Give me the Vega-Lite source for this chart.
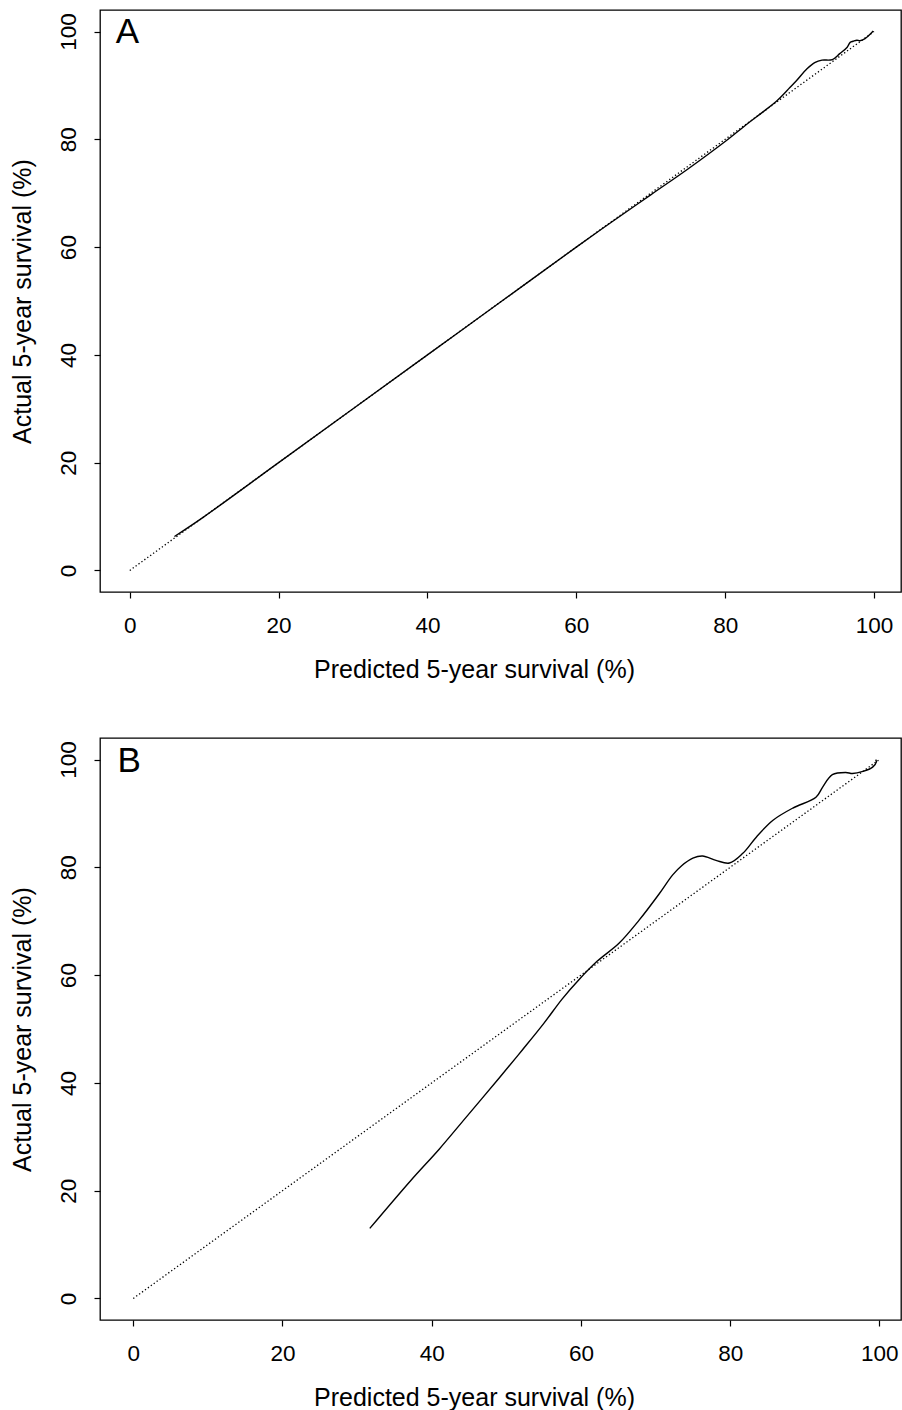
{
  "$schema": "https://vega.github.io/schema/vega-lite/v6.json",
  "padding": {"left": 9, "top": 9, "right": 0, "bottom": 0},
  "background": "white",
  "bounds": "flush",
  "spacing": 146,
  "datasets": {
    "diag": [{"p": 0, "a": 0}, {"p": 100, "a": 100}],
    "solidA": [
      {"p": 6.0, "a": 6.3}, {"p": 10, "a": 10}, {"p": 20, "a": 20}, {"p": 30, "a": 30},
      {"p": 40, "a": 40}, {"p": 50, "a": 50}, {"p": 60, "a": 60}, {"p": 65, "a": 64.9},
      {"p": 70, "a": 69.7}, {"p": 75, "a": 74.5}, {"p": 80, "a": 79.6}, {"p": 83, "a": 82.9},
      {"p": 85, "a": 85}, {"p": 87, "a": 87.2}, {"p": 88.7, "a": 89.6}, {"p": 89.6, "a": 90.9},
      {"p": 91, "a": 93.1}, {"p": 92.1, "a": 94.3}, {"p": 93, "a": 94.7}, {"p": 94.4, "a": 94.8},
      {"p": 95.4, "a": 95.9}, {"p": 96.4, "a": 97.1}, {"p": 96.8, "a": 98.0}, {"p": 97.2, "a": 98.2},
      {"p": 97.7, "a": 98.4}, {"p": 98.1, "a": 98.3}, {"p": 98.8, "a": 98.7}, {"p": 99.9, "a": 100.1}
    ],
    "solidB": [
      {"p": 31.7, "a": 13.0}, {"p": 37.2, "a": 21.9}, {"p": 41.0, "a": 27.7}, {"p": 44.6, "a": 33.6},
      {"p": 49.1, "a": 41.0}, {"p": 52.2, "a": 46.2}, {"p": 55.0, "a": 51.0}, {"p": 57.5, "a": 55.6},
      {"p": 59.7, "a": 59.1}, {"p": 62.2, "a": 62.6}, {"p": 65.1, "a": 65.9}, {"p": 67.8, "a": 70.2},
      {"p": 70.5, "a": 75.1}, {"p": 72.3, "a": 78.6}, {"p": 73.5, "a": 80.3}, {"p": 75.0, "a": 81.7},
      {"p": 76.3, "a": 82.1}, {"p": 78.1, "a": 81.3}, {"p": 79.9, "a": 80.8}, {"p": 81.7, "a": 82.6},
      {"p": 83.5, "a": 85.6}, {"p": 85.7, "a": 88.7}, {"p": 88.4, "a": 91.0}, {"p": 91.5, "a": 93.0},
      {"p": 92.4, "a": 94.9}, {"p": 93.7, "a": 97.2}, {"p": 95.5, "a": 97.6}, {"p": 96.4, "a": 97.4},
      {"p": 97.8, "a": 97.8}, {"p": 99.1, "a": 98.6}, {"p": 99.6, "a": 99.6}, {"p": 99.5, "a": 100.0}
    ],
    "labA": [{"label": "A", "p": -1.9, "a": 97.8}],
    "labB": [{"label": "B", "p": -2.1, "a": 97.7}]
  },
  "config": {
    "view": {"stroke": "black", "strokeWidth": 1.3},
    "font": "Liberation Sans",
    "axis": {
      "grid": false, "domain": false, "tickColor": "black", "tickSize": 6, "tickWidth": 1.2,
      "labelColor": "black", "titleColor": "black", "labelFont": "Liberation Sans",
      "titleFont": "Liberation Sans", "labelFontSize": 22.5, "titleFontSize": 25,
      "titleFontWeight": "normal", "labelFlush": false, "labelOverlap": false
    },
    "axisX": {"labelPadding": 16, "labelBaseline": "top", "labelAlign": "center", "titleX": 374, "titleY": 85, "titleBaseline": "alphabetic", "titleAlign": "center"},
    "axisY": {"labelAngle": -90, "labelAlign": "center", "labelBaseline": "alphabetic", "labelPadding": 19, "titleX": -70, "titleBaseline": "alphabetic", "titleAlign": "center", "titleAngle": -90}
  },
  "vconcat": [
    {
      "width": 801, "height": 582,
      "layer": [
        {
          "data": {"name": "diag"},
          "mark": {"type": "line", "color": "black", "strokeWidth": 1.3, "strokeDash": [1.3, 2.3]},
          "encoding": {
            "x": {"field": "p", "type": "quantitative", "scale": {"domain": [-4, 103.63], "nice": false, "zero": false}, "axis": {"values": [0, 20, 40, 60, 80, 100], "title": "Predicted 5-year survival (%)"}},
            "y": {"field": "a", "type": "quantitative", "scale": {"domain": [-4, 104], "nice": false, "zero": false}, "axis": {"values": [0, 20, 40, 60, 80, 100], "title": "Actual 5-year survival (%)"}}
          }
        },
        {
          "data": {"name": "solidA"},
          "mark": {"type": "line", "color": "black", "strokeWidth": 1.4, "interpolate": "catmull-rom"},
          "encoding": {
            "x": {"field": "p", "type": "quantitative"},
            "y": {"field": "a", "type": "quantitative"},
            "order": {"value": null}
          }
        },
        {
          "data": {"name": "labA"},
          "mark": {"type": "text", "fontSize": 35, "align": "left", "baseline": "alphabetic", "color": "black", "font": "Liberation Sans"},
          "encoding": {
            "x": {"field": "p", "type": "quantitative"},
            "y": {"field": "a", "type": "quantitative"},
            "text": {"field": "label"}
          }
        }
      ]
    },
    {
      "width": 801, "height": 582,
      "layer": [
        {
          "data": {"name": "diag"},
          "mark": {"type": "line", "color": "black", "strokeWidth": 1.3, "strokeDash": [1.3, 2.3]},
          "encoding": {
            "x": {"field": "p", "type": "quantitative", "scale": {"domain": [-4.46, 102.9], "nice": false, "zero": false}, "axis": {"values": [0, 20, 40, 60, 80, 100], "title": "Predicted 5-year survival (%)"}},
            "y": {"field": "a", "type": "quantitative", "scale": {"domain": [-4, 104], "nice": false, "zero": false}, "axis": {"values": [0, 20, 40, 60, 80, 100], "title": "Actual 5-year survival (%)"}}
          }
        },
        {
          "data": {"name": "solidB"},
          "mark": {"type": "line", "color": "black", "strokeWidth": 1.4, "interpolate": "catmull-rom"},
          "encoding": {
            "x": {"field": "p", "type": "quantitative"},
            "y": {"field": "a", "type": "quantitative"},
            "order": {"value": null}
          }
        },
        {
          "data": {"name": "labB"},
          "mark": {"type": "text", "fontSize": 35, "align": "left", "baseline": "alphabetic", "color": "black", "font": "Liberation Sans"},
          "encoding": {
            "x": {"field": "p", "type": "quantitative"},
            "y": {"field": "a", "type": "quantitative"},
            "text": {"field": "label"}
          }
        }
      ]
    }
  ]
}
